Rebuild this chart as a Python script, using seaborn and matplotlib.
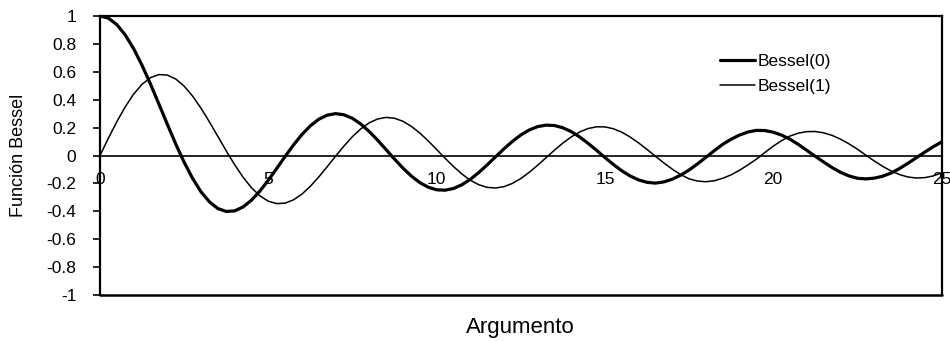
import matplotlib
matplotlib.use("Agg")
import matplotlib.pyplot as plt
import seaborn as sns
import pandas as pd

argumento = [0.0, 0.25, 0.5, 0.75, 1.0, 1.25, 1.5, 1.75, 2.0, 2.25, 2.5, 2.75, 3.0, 3.25, 3.5, 3.75,
             4.0, 4.25, 4.5, 4.75, 5.0, 5.25, 5.5, 5.75, 6.0, 6.25, 6.5, 6.75, 7.0, 7.25, 7.5, 7.75,
             8.0, 8.25, 8.5, 8.75, 9.0, 9.25, 9.5, 9.75, 10.0, 10.25, 10.5, 10.75, 11.0, 11.25,
             11.5, 11.75, 12.0, 12.25, 12.5, 12.75, 13.0, 13.25, 13.5, 13.75, 14.0, 14.25, 14.5,
             14.75, 15.0, 15.25, 15.5, 15.75, 16.0, 16.25, 16.5, 16.75, 17.0, 17.25, 17.5, 17.75,
             18.0, 18.25, 18.5, 18.75, 19.0, 19.25, 19.5, 19.75, 20.0, 20.25, 20.5, 20.75, 21.0,
             21.25, 21.5, 21.75, 22.0, 22.25, 22.5, 22.75, 23.0, 23.25, 23.5, 23.75, 24.0, 24.25,
             24.5, 24.75, 25.0]
bessel0 = [1.0, 0.9844, 0.9385, 0.8642, 0.7652, 0.6459, 0.5118, 0.3690, 0.2239, 0.0827,
           -0.0484, -0.1641, -0.2601, -0.3318, -0.3801, -0.4012, -0.3971, -0.3689, -0.3205,
           -0.2551, -0.1776, -0.0930, -0.0068, 0.0759, 0.1506, 0.2129, 0.2601, 0.2892, 0.3001,
           0.2918, 0.2663, 0.2251, 0.1717, 0.1091, 0.0419, -0.0259, -0.0903, -0.1472, -0.1939,
           -0.2271, -0.2459, -0.2487, -0.2366, -0.2099, -0.1712, -0.1226, -0.0677, -0.0097,
           0.0477, 0.1008, 0.1469, 0.1827, 0.2069, 0.2176, 0.2150, 0.1989, 0.1711, 0.1330,
           0.0875, 0.0374, -0.0142, -0.0640, -0.1092, -0.1468, -0.1749, -0.1923, -0.1979,
           -0.1895, -0.1699, -0.1410, -0.1040, -0.0602, -0.0134, 0.0346, 0.0799, 0.1170,
           0.1466, 0.1686, 0.1801, 0.1789, 0.1670, 0.1460, 0.1165, 0.0787, 0.0366, -0.0056,
           -0.0469, -0.0866, -0.1207, -0.1464, -0.1630, -0.1678, -0.1624, -0.1487, -0.1261,
           -0.0938, -0.0562, -0.0166, 0.0237, 0.0621, 0.0963]
bessel1 = [0.0, 0.1240, 0.2423, 0.3492, 0.4401, 0.5106, 0.5579, 0.5802, 0.5767, 0.5484,
           0.4971, 0.4261, 0.3391, 0.2412, 0.1374, 0.0333, -0.0660, -0.1554, -0.2311, -0.2890,
           -0.3276, -0.3448, -0.3414, -0.3177, -0.2767, -0.2206, -0.1538, -0.0802, -0.0047,
           0.0684, 0.1352, 0.1914, 0.2346, 0.2620, 0.2731, 0.2670, 0.2453, 0.2090, 0.1613,
           0.1048, 0.0435, -0.0190, -0.0789, -0.1324, -0.1768, -0.2092, -0.2284, -0.2329,
           -0.2234, -0.2002, -0.1655, -0.1211, -0.0703, -0.0162, 0.0380, 0.0888, 0.1334,
           0.1687, 0.1934, 0.2055, 0.2051, 0.1918, 0.1672, 0.1325, 0.0904, 0.0438, -0.0048,
           -0.0532, -0.0977, -0.1368, -0.1672, -0.1832, -0.1880, -0.1811, -0.1634, -0.1386,
           -0.1057, -0.0678, -0.0263, 0.0211, 0.0668, 0.1068, 0.1399, 0.1605, 0.1711, 0.1719,
           0.1623, 0.1440, 0.1172, 0.0837, 0.0455, 0.0030, -0.0392, -0.0774, -0.1105, -0.1365,
           -0.1540, -0.1615, -0.1588, -0.1466, -0.1254]
series_names = ["Bessel(0)", "Bessel(1)"]
x_ticks = [0, 5, 10, 15, 20, 25]
y_ticks = [-1, -0.8, -0.6, -0.4, -0.2, 0, 0.2, 0.4, 0.6, 0.8, 1]
y_tick_labels = ["-1", "-0.8", "-0.6", "-0.4", "-0.2", "0", "0.2", "0.4", "0.6", "0.8", "1"]

df = pd.DataFrame({
    "Argumento": argumento * 2,
    "valor": bessel0 + bessel1,
    "serie": [series_names[0]] * len(argumento) + [series_names[1]] * len(argumento),
})

sns.set_theme(style="white")
plt.rcParams["font.family"] = ["Liberation Sans", "DejaVu Sans"]

fig = plt.figure(figsize=(9.5, 3.41), dpi=100)
ax = fig.add_axes([100 / 950, 1 - 295 / 341, 841.5 / 950, 279 / 341])

sns.lineplot(data=df, x="Argumento", y="valor", hue="serie", size="serie",
             sizes={series_names[0]: 2.3, series_names[1]: 1.1},
             palette={series_names[0]: "black", series_names[1]: "black"},
             ax=ax, legend=True)

ax.set_xlim(0, 25)
ax.set_ylim(-1, 1)

# frame
for side in ["left", "right", "top"]:
    ax.spines[side].set_visible(True)
    ax.spines[side].set_color("black")
    ax.spines[side].set_linewidth(1.6)
ax.spines["bottom"].set_position(("data", 0))
ax.spines["bottom"].set_color("black")
ax.spines["bottom"].set_linewidth(1.2)
ax.axhline(-1, color="black", lw=1.8, clip_on=False, zorder=5)

ax.set_yticks(y_ticks)
ax.set_yticklabels(y_tick_labels)
ax.set_xticks(x_ticks)
ax.set_xticklabels([str(t) for t in x_ticks])
ax.tick_params(axis="y", which="major", left=True, length=5, width=1.2, color="black",
               pad=12, labelsize=12.5, labelcolor="black")
ax.tick_params(axis="x", which="major", bottom=True, length=0, pad=12,
               labelsize=12.5, labelcolor="black")

ax.set_ylabel("Función Bessel", fontsize=13, color="black", labelpad=14)
ax.set_xlabel("Argumento", fontsize=16, color="black", va="top")
ax.xaxis.set_label_coords(0.5, -0.08)

leg = ax.legend(loc="center left", bbox_to_anchor=((720 - 100) / 841.5, (295 - 74) / 279),
                frameon=False, fontsize=12.5, handlelength=2.0, handletextpad=0.15,
                labelspacing=0.55, borderpad=0, borderaxespad=0)
for t in leg.get_texts():
    t.set_color("black")

fig.savefig("out.png", dpi=100, facecolor="white")
